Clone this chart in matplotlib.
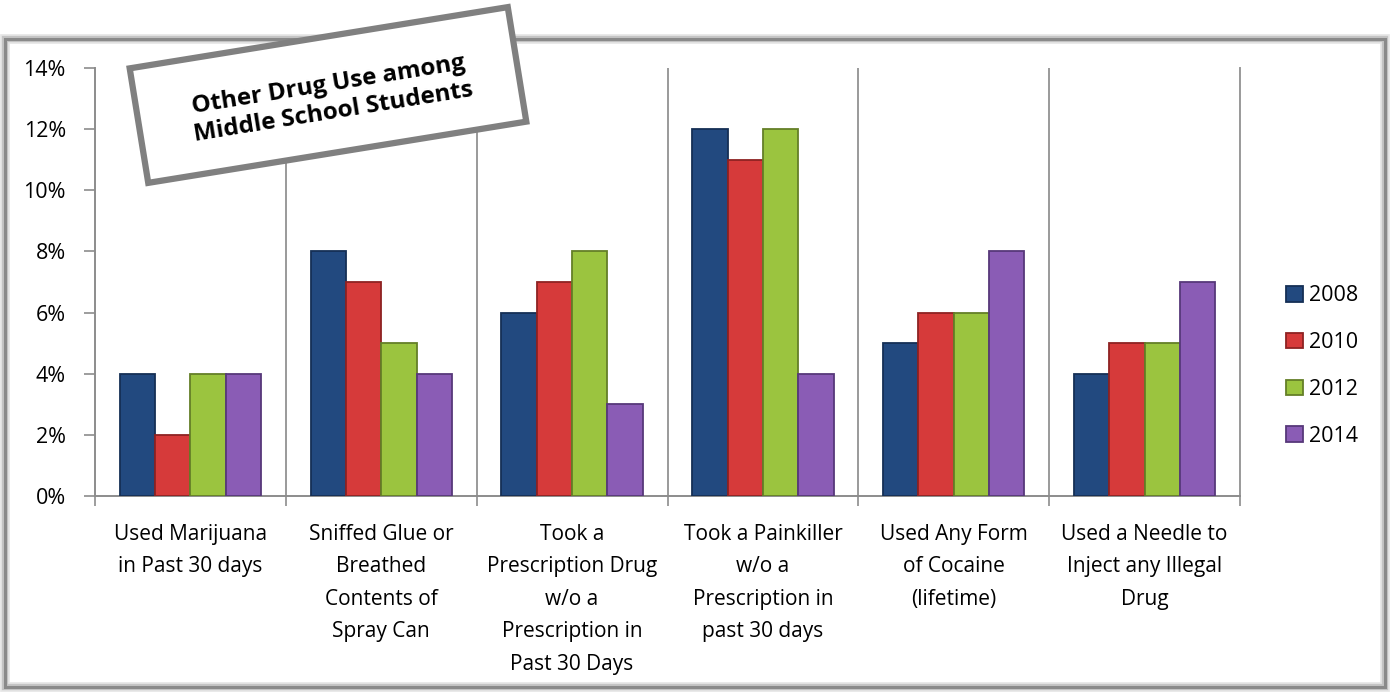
import numpy as np
import matplotlib.pyplot as plt
import matplotlib.patches as patches
import matplotlib.transforms as mtransforms
from matplotlib.ticker import PercentFormatter, FixedLocator

plt.rcParams['font.family'] = ['Open Sans', 'DejaVu Sans']

# Données
categories = ['Used Marijuana\nin Past 30 days',
              'Sniffed Glue or\nBreathed\nContents of\nSpray Can',
              'Took a\nPrescription Drug\nw/o a\nPrescription in\nPast 30 Days',
              'Took a Painkiller\nw/o a\nPrescription in\npast 30 days',
              'Used Any Form\nof Cocaine\n(lifetime)',
              'Used a Needle to\nInject any Illegal\nDrug']
years = ['2008', '2010', '2012', '2014']
v2008 = [4, 8, 6, 12, 5, 4]
v2010 = [2, 7, 7, 11, 6, 5]
v2012 = [4, 5, 8, 12, 6, 5]
v2014 = [4, 4, 3, 4, 8, 7]
series = [v2008, v2010, v2012, v2014]
colors = ['#22497F', '#D63A3A', '#9BC43F', '#8A5CB5']
edges = ['#152F55', '#8E2222', '#647F27', '#57387A']

fig = plt.figure(figsize=(13.9, 6.92), dpi=100)
ax = fig.add_axes([95 / 1390, 196 / 692, 1145 / 1390, 428 / 692])

x = np.arange(len(categories))
w = 0.185
for i, (vals, c) in enumerate(zip(series, colors)):
    pos = x + (i - 1.5) * w
    ax.bar(pos, vals, width=w, color=c, edgecolor=edges[i], linewidth=1.3,
           label=years[i], zorder=3)

ax.set_xlim(-0.5, len(categories) - 0.5)
ax.set_ylim(0, 14)
ax.yaxis.set_major_formatter(PercentFormatter(decimals=0))
ax.set_yticks(range(0, 15, 2))
ax.set_xticks(x)
ax.set_xticklabels(categories, fontsize=15, linespacing=1.72)
ax.tick_params(axis='x', length=0, pad=20)
ax.xaxis.set_minor_locator(FixedLocator(np.arange(-0.5, len(categories), 1)))
ax.tick_params(axis='x', which='minor', length=7, color='#8C8C8C', width=1.2)
ax.tick_params(axis='y', length=8, color='#8C8C8C', width=1.2, labelsize=15.5, pad=13)
for xv in np.arange(0.5, len(categories), 1):
    ax.axvline(xv, color='#9A9A9A', linewidth=1.4, zorder=1)
ax.spines['top'].set_visible(False)
ax.spines['right'].set_color('#9A9A9A')
ax.spines['right'].set_linewidth(1.4)
ax.spines['left'].set_color('#8C8C8C')
ax.spines['bottom'].set_color('#8C8C8C')
ax.spines['left'].set_linewidth(1.4)
ax.spines['bottom'].set_linewidth(1.4)

leg = fig.legend(loc='center left', bbox_to_anchor=(1267 / 1390, 1 - 366 / 692),
                 frameon=False, fontsize=15.5, labelspacing=1.2,
                 handlelength=0.75, handleheight=0.75, handletextpad=0.3)

# cadre extérieur avec ombre
for lw, col in [(7, '#E6E6E6'), (4.5, '#C4C4C4'), (2.2, '#8A8A8A')]:
    fig.patches.append(patches.Rectangle((5 / 1390, 5 / 692), 1380 / 1390, 648 / 692,
                                         transform=fig.transFigure, fill=False,
                                         edgecolor=col, linewidth=lw, zorder=0))

# boîte de titre inclinée
cx, cy = 328, 692 - 95
bw, bh = 383, 116
tr = mtransforms.Affine2D().rotate_deg_around(cx, cy, 9.2)
box = patches.Rectangle((cx - bw / 2, cy - bh / 2), bw, bh, facecolor='white',
                        edgecolor='#808080', linewidth=4.5, zorder=10,
                        transform=tr)
fig.patches.append(box)
fig.text((cx + 3) / 1390, (cy - 4) / 692, 'Other Drug Use among\nMiddle School Students',
         ha='center', va='center', rotation=9.2, rotation_mode='anchor',
         fontsize=17.5, fontweight='bold', linespacing=1.2, zorder=11)

fig.savefig('out.png', dpi=100)
